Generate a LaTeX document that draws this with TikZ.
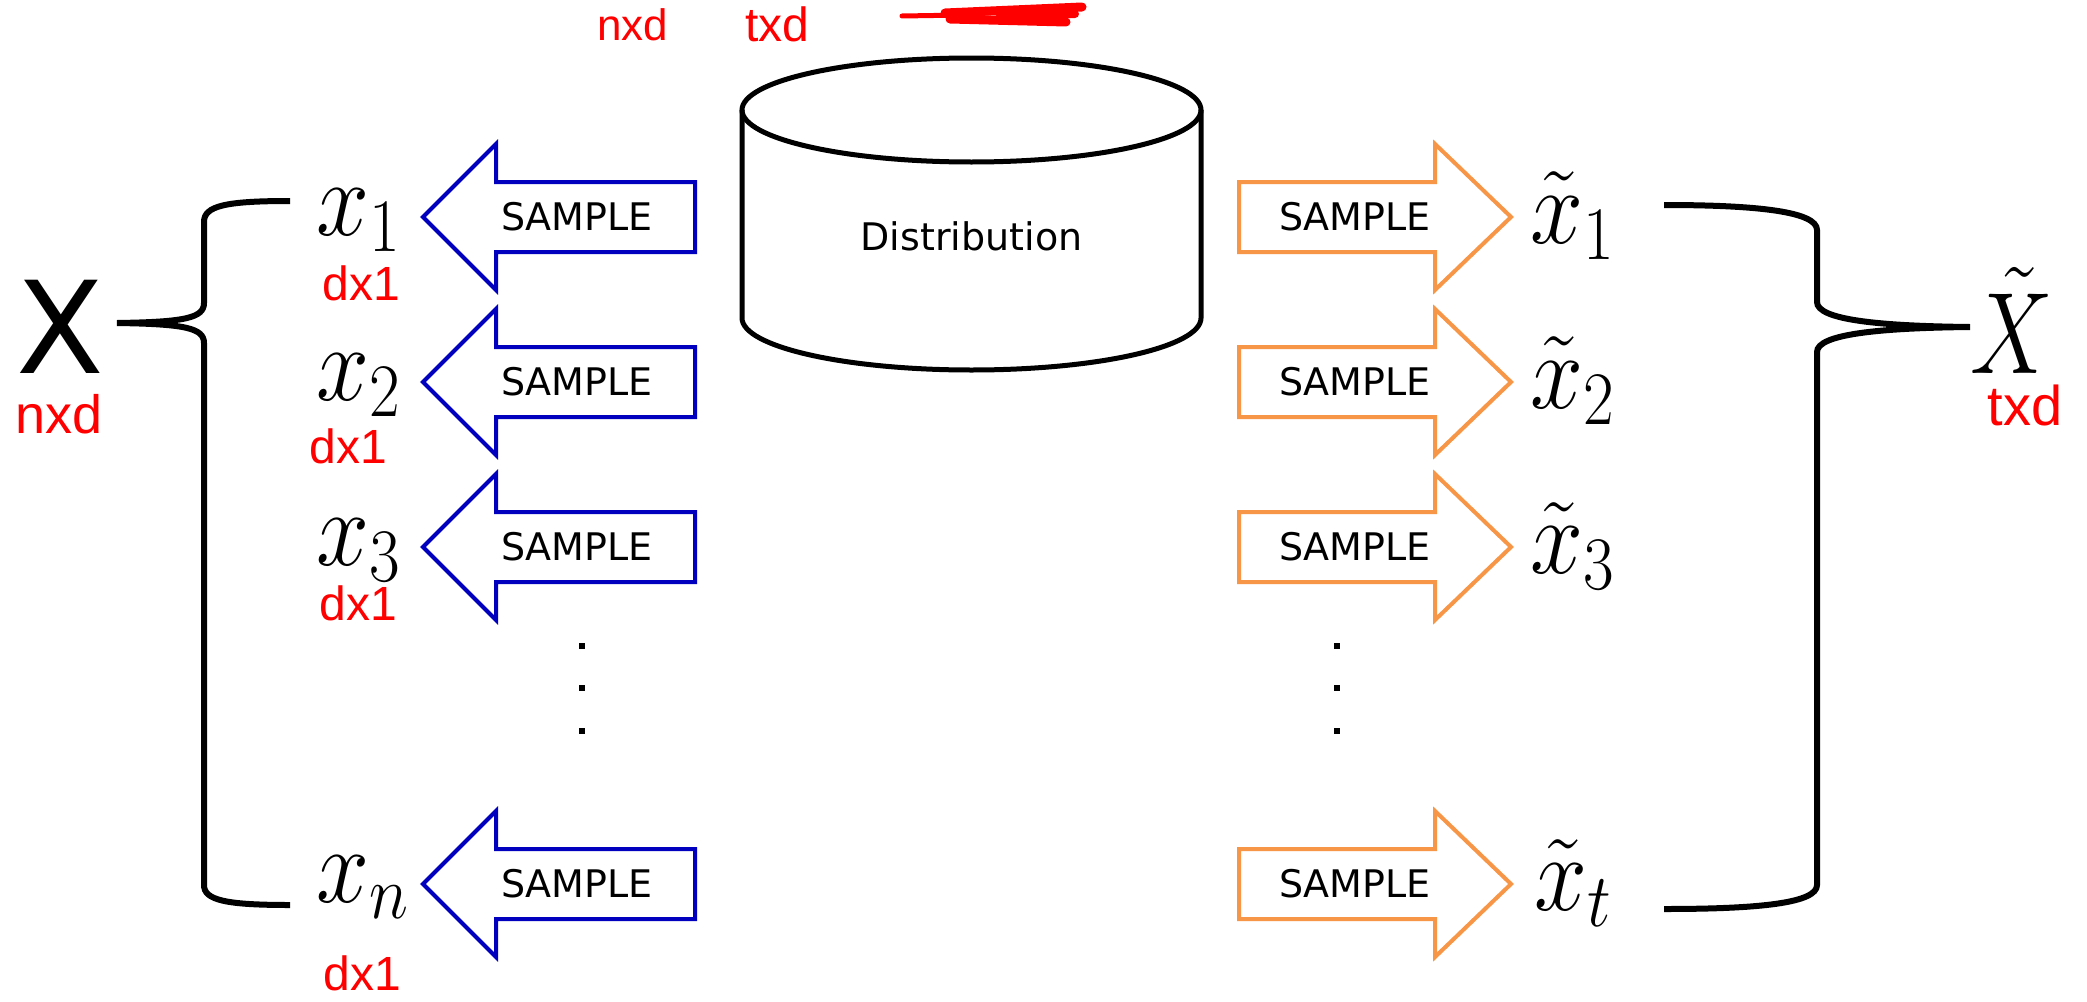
\RequirePackage{fix-cm}
\documentclass[tikz,border=0pt]{standalone}
\usepackage[no-math]{fontspec}
\setsansfont{DejaVu Sans}
\newfontfamily\handfont{Liberation Sans}
\usepackage{graphicx}

\definecolor{sampleblue}{RGB}{0,0,190}
\definecolor{sampleorange}{RGB}{247,150,70}
\definecolor{notered}{RGB}{255,0,0}

\begin{document}
\begin{tikzpicture}[x=0.5pt,y=-0.5pt,
  outline/.style={line width=2.5pt},
  bracestroke/.style={line width=3pt},
  blueline/.style={draw=sampleblue, line width=2pt, fill=white},
  orangeline/.style={draw=sampleorange, line width=2pt, fill=white},
  samplelabel/.style={font=\sffamily\fontsize{19}{19}\selectfont, inner sep=0pt},
  vec/.style={inner sep=0pt, anchor=base west, font=\fontsize{54}{54}\selectfont},
  note/.style={text=notered, inner sep=0pt, anchor=base west},
  scribble/.style={draw=notered, line cap=round},
  dotmark/.style={fill=black},
  pics/pullarrow/.style={code={
    \draw[blueline] (0,0) -- (73,-73) -- (73,-35) -- (272,-35) -- (272,35)
      -- (73,35) -- (73,73) -- cycle;
    \node[samplelabel] (-text) at (154,0) {SAMPLE};
  }},
  pics/pusharrow/.style={code={
    \draw[orangeline] (0,0) -- (-76,-73) -- (-76,-35) -- (-272,-35) -- (-272,35)
      -- (-76,35) -- (-76,73) -- cycle;
    \node[samplelabel] (-text) at (-156,0) {SAMPLE};
  }},
]
\fill[white] (0,0) rectangle (2087,1001);
\useasboundingbox (0,0) rectangle (2087,1001);

% distribution store
\draw[outline] (971.5,110) ellipse [x radius=114.75pt, y radius=26pt];
\draw[outline] (742,110) -- (742,318)
  arc[start angle=180, end angle=360, x radius=114.75pt, y radius=26pt] -- (1201,110);
\node[samplelabel] (dist) at (971.5,236) {Distribution};

% observed samples
\pic (pa1) at (423,217) {pullarrow};
\pic (pa2) at (423,382) {pullarrow};
\pic (pa3) at (423,547) {pullarrow};
\pic (pan) at (423,884) {pullarrow};

% generated samples
\pic (pb1) at (1511,217) {pusharrow};
\pic (pb2) at (1511,382) {pusharrow};
\pic (pb3) at (1511,547) {pusharrow};
\pic (pbt) at (1511,884) {pusharrow};

% vertical ellipses
\foreach \yy in {646,688,731} {
  \fill[dotmark] (579,\yy-3) rectangle (585,\yy+3);
  \fill[dotmark] (1334,\yy-3) rectangle (1340,\yy+3);
}

% sample vectors
\node[vec] (x1) at (316,235) {\scalebox{0.88}[1]{$x_{1}$}};
\node[vec] (x2) at (316,400) {\scalebox{0.88}[1]{$x_{2}$}};
\node[vec] (x3) at (316,565) {\scalebox{0.88}[1]{$x_{3}$}};
\node[vec] (xn) at (316,902) {\scalebox{0.88}[1]{$x_{n}$}};

\node[vec] (xt1) at (1530,243) {\scalebox{0.88}[1]{$\tilde{x}_{1}$}};
\node[vec] (xt2) at (1530,408) {\scalebox{0.88}[1]{$\tilde{x}_{2}$}};
\node[vec] (xt3) at (1530,573) {\scalebox{0.88}[1]{$\tilde{x}_{3}$}};
\node[vec] (xtt) at (1534,910) {\scalebox{0.88}[1]{$\tilde{x}_{t}$}};

% data matrices
\node[inner sep=0pt, anchor=base, font=\sffamily\fontsize{64}{64}\selectfont]
  (Xbig) at (60,373) {X};
\node[inner sep=0pt, anchor=base, font=\fontsize{58}{58}\selectfont]
  (Xtil) at (2012,373) {\scalebox{0.8}[1]{$\tilde{X}$}};

% braces
\coordinate (lbtop) at (290,201);
\coordinate (lbtip) at (117,323);
\coordinate (lbbot) at (290,905);
\draw[bracestroke] (lbtop) .. controls (225,201) and (204,206) .. (204,222)
  -- (204,303) .. controls (204,318) and (185,322) .. (lbtip)
  .. controls (185,324) and (204,328) .. (204,343)
  -- (204,885) .. controls (204,900) and (225,905) .. (lbbot);

\coordinate (rbtop) at (1664,205);
\coordinate (rbtip) at (1970,327);
\coordinate (rbbot) at (1664,909);
\draw[bracestroke] (rbtop) .. controls (1760,205) and (1817,212) .. (1817,230)
  -- (1817,302) .. controls (1817,320) and (1880,326) .. (rbtip)
  .. controls (1880,328) and (1817,334) .. (1817,352)
  -- (1817,885) .. controls (1817,903) and (1760,909) .. (rbbot);

% handwritten dimensions
\node[note, font=\handfont\fontsize{22}{22}\selectfont] (n-top) at (597,40) {nxd};
\node[note, font=\handfont\fontsize{24}{24}\selectfont] (t-top) at (745,41) {txd};
\node[note, font=\handfont\fontsize{27}{27}\selectfont] (n-X) at (15,433) {nxd};
\node[note, font=\handfont\fontsize{28}{28}\selectfont, anchor=base] (t-X) at (2025,425) {txd};
\node[note, font=\handfont\fontsize{24}{24}\selectfont] (d-1) at (322,300) {dx1};
\node[note, font=\handfont\fontsize{24}{24}\selectfont] (d-2) at (309,463) {dx1};
\node[note, font=\handfont\fontsize{24}{24}\selectfont] (d-3) at (319,620) {dx1};
\node[note, font=\handfont\fontsize{24}{24}\selectfont] (d-n) at (323,990) {dx1};

% crossed-out note
\draw[scribble, line width=2.5pt] (902,16) -- (965,15);
\draw[scribble, line width=4.5pt] (945,13) -- (1082,7);
\draw[scribble, line width=4.5pt] (950,19) -- (1066,22);
\draw[scribble, line width=4pt] (1000,16) -- (1075,14);
\end{tikzpicture}
\end{document}
